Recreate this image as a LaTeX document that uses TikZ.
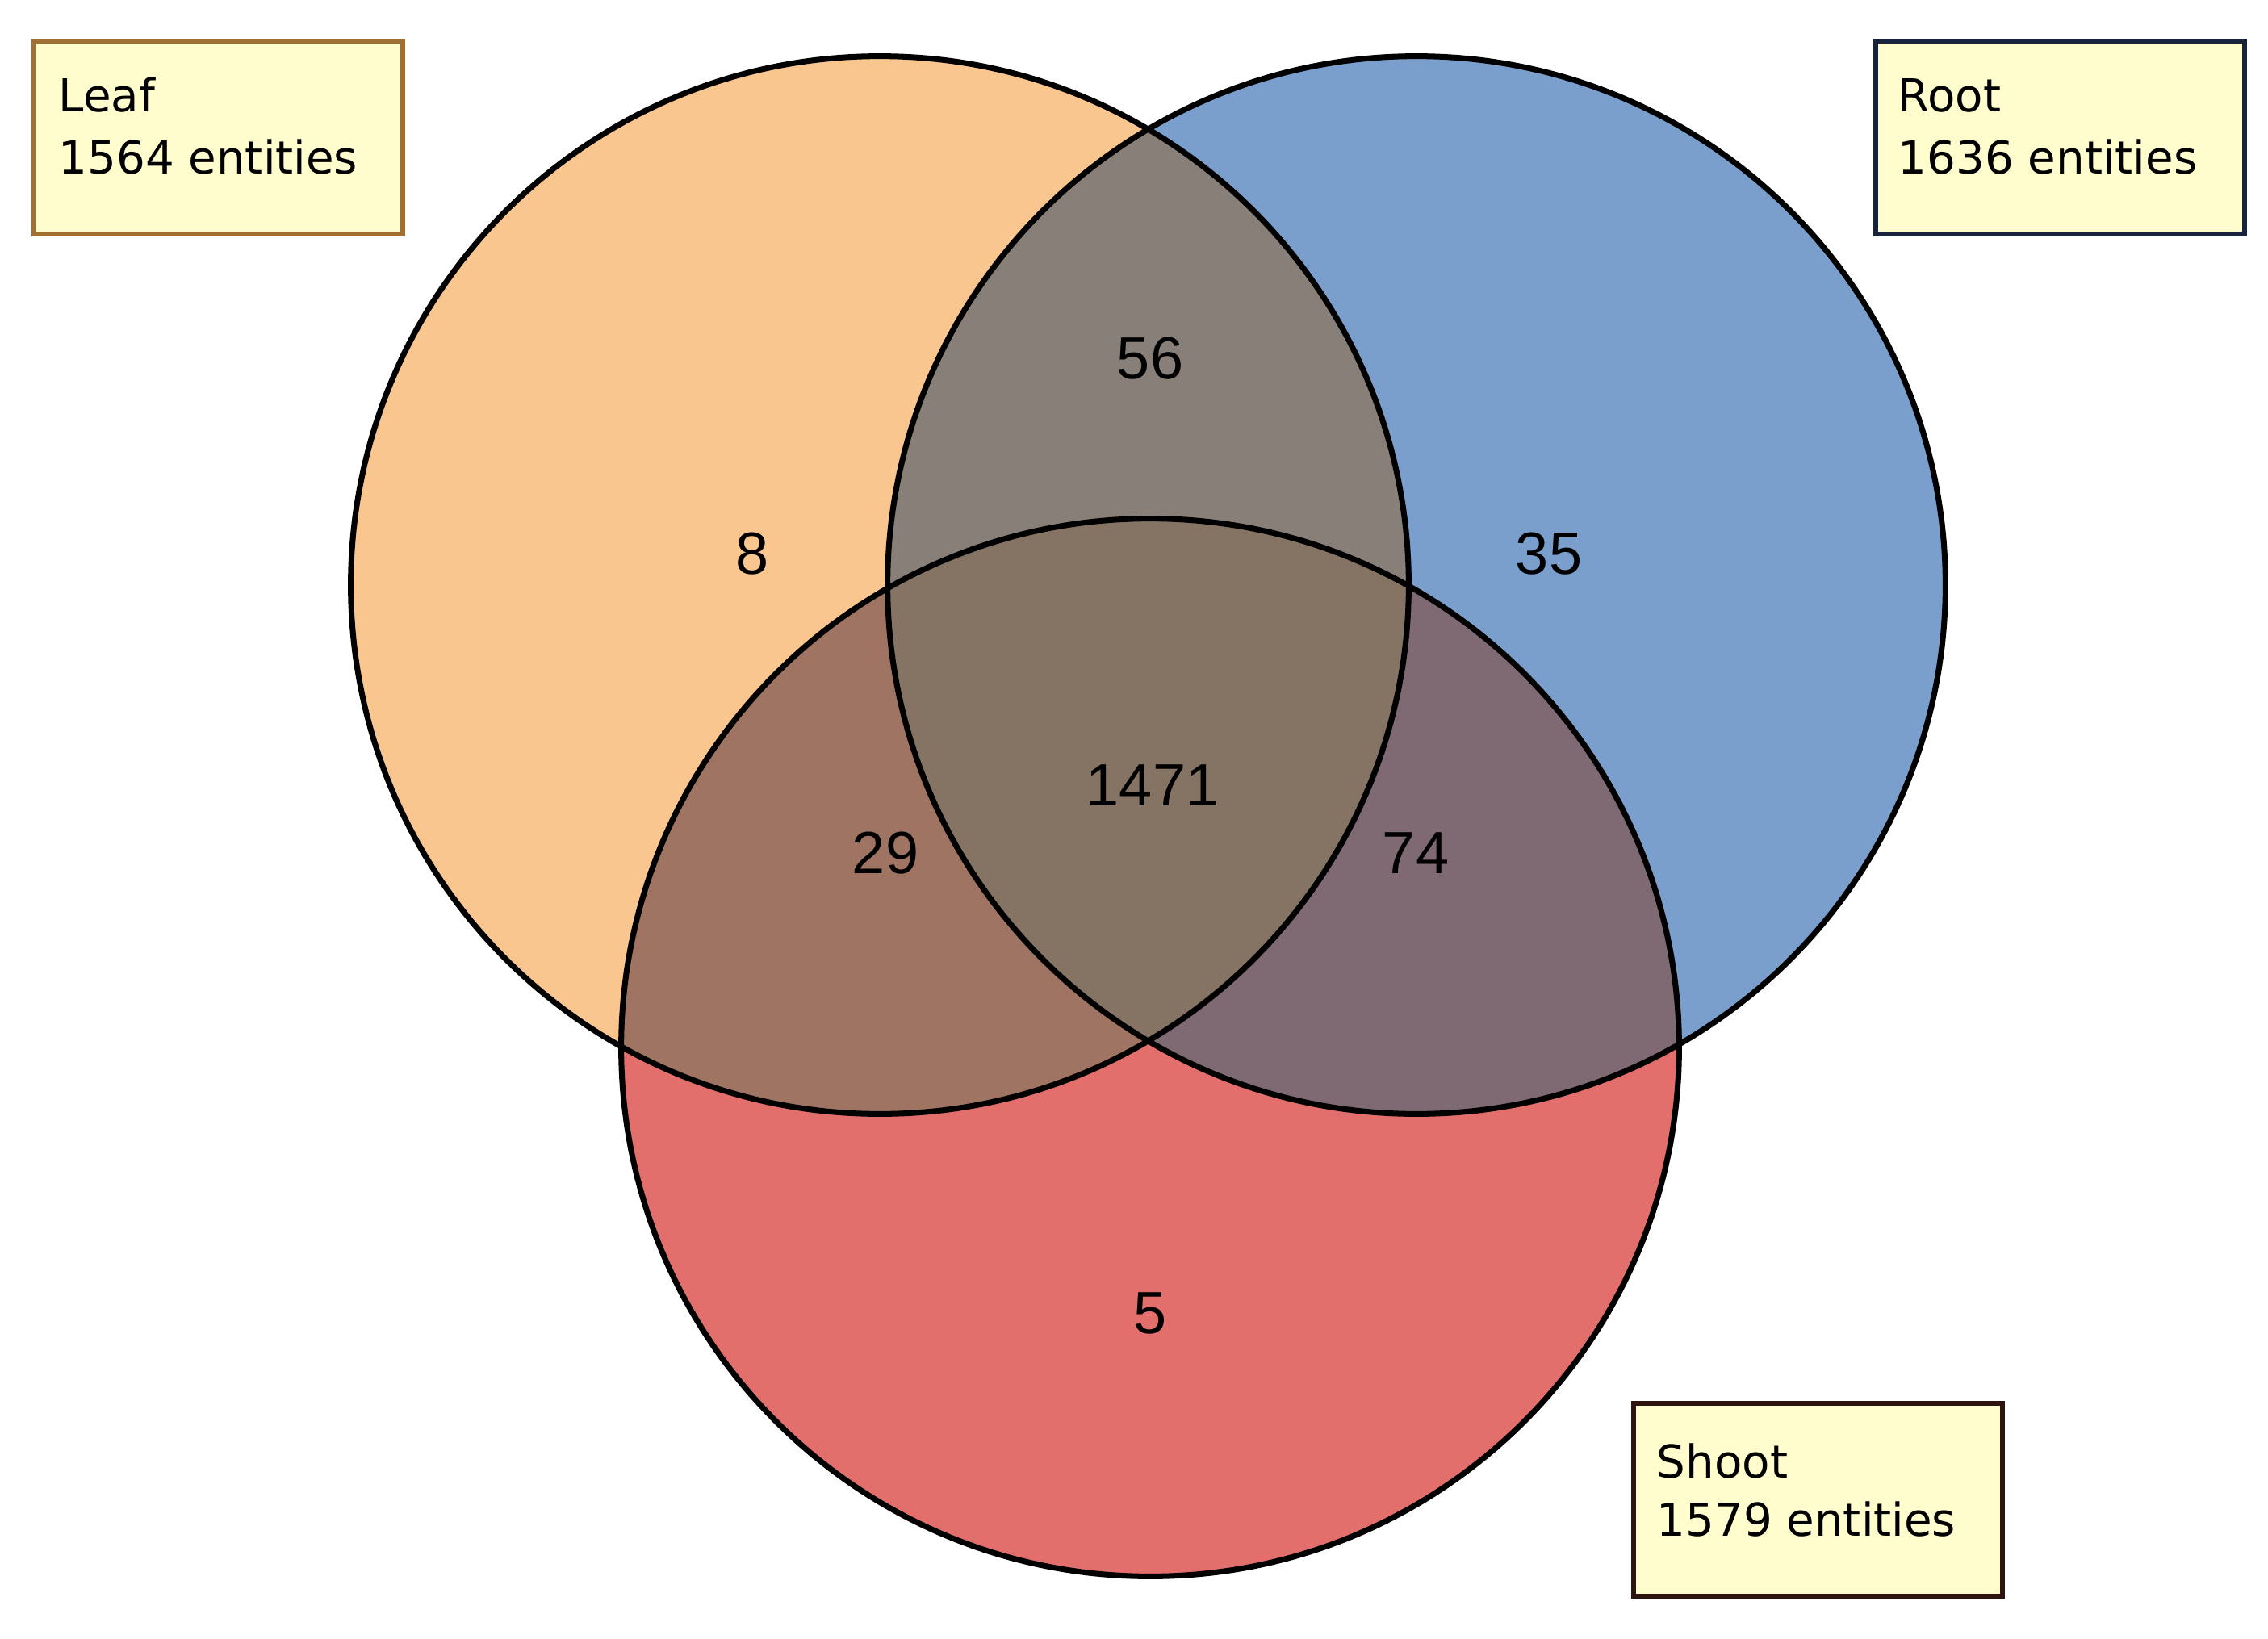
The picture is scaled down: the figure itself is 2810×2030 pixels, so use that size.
\documentclass[tikz,border=0pt]{standalone}
\usepackage{fontspec}
\setmainfont{Liberation Sans}
\newfontfamily\keyfont{DejaVu Sans}
\usepackage{xcolor}
\definecolor{leafc}{RGB}{250,198,144}
\definecolor{rootc}{RGB}{123,159,204}
\definecolor{shootc}{RGB}{227,111,108}
\definecolor{lrc}{RGB}{136,127,120}
\definecolor{lsc}{RGB}{160,116,99}
\definecolor{rsc}{RGB}{127,106,115}
\definecolor{lrsc}{RGB}{133,115,100}
\definecolor{keyfill}{RGB}{255,252,206}
\definecolor{leafedge}{RGB}{160,112,50}
\definecolor{rootedge}{RGB}{25,35,60}
\definecolor{shootedge}{RGB}{45,20,15}

\begin{document}
\begin{tikzpicture}[x=0.01cm,y=-0.01cm,
	ring/.style={draw=black,line width=2pt},
	count/.style={font=\fontsize{21}{25}\selectfont},
	keybox/.style={line width=1.6pt,fill=keyfill,anchor=north west,minimum width=4.57cm,minimum height=2.39cm},
	keytext/.style={anchor=base west,inner sep=0pt,font=\keyfont\fontsize{16}{19}\selectfont}]
	\useasboundingbox (0,0) rectangle (2810,2030);
	\def\rad{6.55cm}
	\coordinate (L) at (1090,725);
	\coordinate (R) at (1755,725);
	\coordinate (S) at (1425,1298);
	% circles
	\fill[leafc] (L) circle (\rad);
	\fill[rootc] (R) circle (\rad);
	\fill[shootc] (S) circle (\rad);
	\begin{scope}
		\clip (L) circle (\rad);
		\fill[lrc] (R) circle (\rad);
		\fill[lsc] (S) circle (\rad);
	\end{scope}
	\begin{scope}
		\clip (R) circle (\rad);
		\fill[rsc] (S) circle (\rad);
		\clip (L) circle (\rad);
		\fill[lrsc] (S) circle (\rad);
	\end{scope}
	\draw[ring] (L) circle (\rad) (R) circle (\rad) (S) circle (\rad);
	% counts
	\node[count] (n56) at (1425,444) {56};
	\node[count] (n8) at (932,686) {8};
	\node[count] (n35) at (1919,686) {35};
	\node[count] (n1471) at (1428,973) {1471};
	\node[count] (n29) at (1097,1057) {29};
	\node[count] (n74) at (1754,1057) {74};
	\node[count] (n5) at (1425,1627) {5};
	% keys
	\node[keybox,draw=leafedge] (leafbox) at (39,48) {};
	\node[keytext] (leafname) at (72,138) {Leaf};
	\node[keytext] (leafnum) at (72,215) {1564 entities};
	\node[keybox,draw=rootedge] (rootbox) at (2321,48) {};
	\node[keytext] (rootname) at (2351,138) {Root};
	\node[keytext] (rootnum) at (2351,215) {1636 entities};
	\node[keybox,draw=shootedge] (shootbox) at (2021,1736) {};
	\node[keytext] (shootname) at (2052,1831) {Shoot};
	\node[keytext] (shootnum) at (2052,1903) {1579 entities};
\end{tikzpicture}
\end{document}
